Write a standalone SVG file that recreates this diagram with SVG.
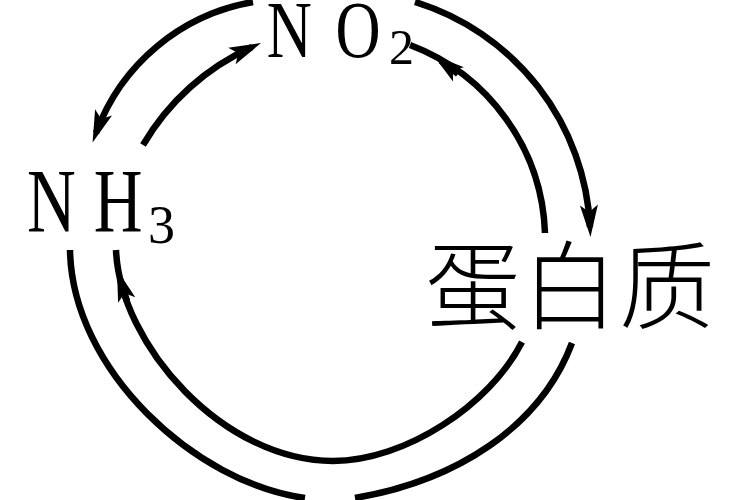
<svg xmlns="http://www.w3.org/2000/svg" width="750" height="500" viewBox="0 0 750 500">
<style>
.edge{fill:none;stroke:#000;stroke-width:6.5;stroke-linecap:butt}
.arr{fill:none;stroke:#000;stroke-width:6.5;marker-end:url(#ah)}
.lat{font-family:"Liberation Serif","Times New Roman",serif;fill:#000}
.cjk{font-family:"Noto Sans CJK SC","Noto Sans CJK JP",sans-serif;font-weight:300;fill:#000}
</style>
<defs>
<marker id="ah" viewBox="-24 -10 36 20" refX="0" refY="0" markerWidth="36" markerHeight="20" markerUnits="userSpaceOnUse" orient="auto">
<path d="M10,0 L-22,-9 L-15,0 L-22,9 Z" fill="#000"/>
</marker>
</defs>
<rect width="750" height="500" fill="#fff"/>
<g id="connectors">
<path class="edge" d="M253,2 A204,204 0 0 0 96,133" marker-end="url(#ah)"/>
<path class="edge" d="M143,145 A240,240 0 0 1 252,47" marker-end="url(#ah)"/>
<path class="edge" d="M415,2 A248,248 0 0 1 590,227" marker-end="url(#ah)"/>
<path class="edge" d="M410,45 A209,209 0 0 1 545,233"/>
<path class="arr" d="M458,74 L441,61"/>
<path class="edge" d="M522,342 C490,405 405,461 333,461 C223,461 120,345 116,250"/>
<path class="arr" d="M127,301 L120,279"/>
<path class="edge" d="M70,250 C72,370 195,483 305,498"/>
<path class="edge" d="M355,498 C455,481 540,428 572,343"/>
</g>
<g id="node-no2">
<text class="lat" transform="scale(0.78,1)" font-size="80" y="57"><tspan x="342">N</tspan><tspan x="430">O</tspan></text>
<text class="lat" font-size="50" x="389" y="64">2</text>
</g>
<g id="node-nh3">
<text class="lat" transform="scale(0.75,1)" font-size="90" y="232"><tspan x="36">N</tspan><tspan x="125">H</tspan></text>
<text class="lat" font-size="54" x="148" y="243">3</text>
</g>
<g id="node-protein">
<text class="cjk" font-size="96" x="425" y="321" letter-spacing="1">蛋白质</text>
</g>
</svg>
